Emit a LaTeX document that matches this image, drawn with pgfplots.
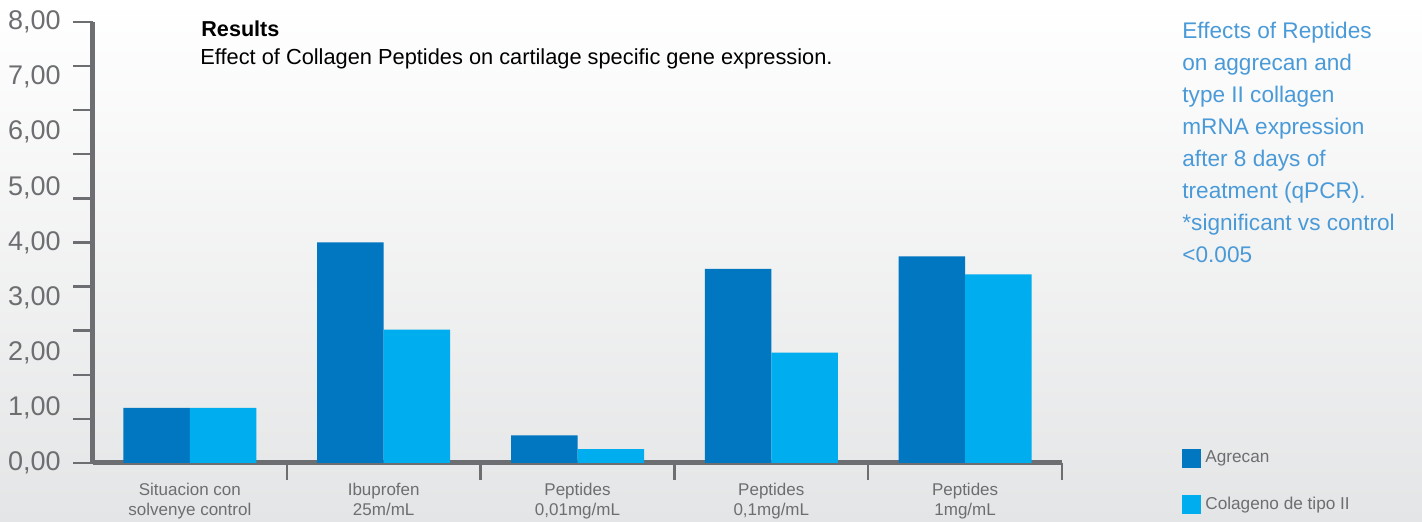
\documentclass[border=0pt]{standalone}
\usepackage{pgfplots}
\pgfplotsset{compat=1.18}
\usepackage{pgfplotstable}
\usepackage{fontspec}
\setmainfont{Liberation Sans}

\definecolor{agre}{HTML}{0077C0}
\definecolor{cola}{HTML}{00ADEE}
\definecolor{axgray}{HTML}{6D6E71}
\definecolor{txtblue}{HTML}{4A9AD8}
\definecolor{bgbot}{HTML}{E4E5E6}

% relative expression
\pgfplotstableread{
idx agrecan colageno
0   1.00    1.00
1   4.00    2.42
2   0.50    0.25
3   3.52    2.00
4   3.75    3.42
}\genedata

\begin{document}
\begin{tikzpicture}
\useasboundingbox (0,0) rectangle (711pt,261pt);
\shade[top color=white, bottom color=bgbot] (0,0) rectangle (711pt,261pt);
\begin{axis}[
  at={(46.5pt,29.5pt)}, anchor=south west,
  scale only axis, width=484.5pt, height=220.5pt,
  xmin=-0.5, xmax=4.5, ymin=0, ymax=8,
  axis x line*=bottom, axis y line*=left,
  axis line style={-, draw=axgray, line width=2.5pt},
  ybar=0pt, bar width=33.25pt,
  tick align=outside,
  major tick length=0pt,
  minor tick length=10pt,
  tick style={draw=axgray, line width=1.2pt},
  xtick={0,...,4},
  xticklabels={{Situacion con\\solvenye control},{Ibuprofen\\25m/mL},{Peptides\\0,01mg/mL},{Peptides\\0,1mg/mL},{Peptides\\1mg/mL}},
  extra x ticks={0.5,1.5,2.5,3.5,4.5},
  extra x tick labels={},
  extra x tick style={major tick length=8.5pt},
  ytick={0,...,8},
  minor ytick={0,0.8,1.6,2.4,3.2,4,4.8,5.6,6.4,7.2,8},
  xticklabel style={font=\fontsize{8.5}{10}\selectfont, text=axgray, align=center, inner sep=0pt, anchor=north, yshift=-10pt},
  yticklabel style={font=\fontsize{13.5}{13.5}\selectfont, text=axgray, inner sep=0pt, xshift=-16pt,
    /pgf/number format/.cd, fixed, fixed zerofill, precision=2, use comma, assume math mode=true},
  legend style={at={(1.1238,0.0375)}, anchor=north west, draw=none, fill=none,
    font=\fontsize{8.6}{10}\selectfont, text=axgray, row sep=11.5pt, inner sep=0pt},
  legend cell align=left,
]
\addplot[fill=agre, draw=none,
  legend image code/.code={\fill[agre] (0pt,-4.75pt) rectangle (9.5pt,4.75pt);}]
  table[x=idx, y=agrecan] {\genedata};
\addlegendentry{Agrecan}
\addplot[fill=cola, draw=none,
  legend image code/.code={\fill[cola] (0pt,-4.75pt) rectangle (9.5pt,4.75pt);}]
  table[x=idx, y=colageno] {\genedata};
\addlegendentry{Colageno de tipo II}
\end{axis}

\node[anchor=base west, inner sep=0pt, font=\bfseries\fontsize{10.8}{13}\selectfont] at (100.5pt,242.7pt) {Results};
\node[anchor=base west, inner sep=0pt, font=\fontsize{10.9}{12}\selectfont] at (100pt,228.5pt) {Effect of Collagen Peptides on cartilage specific gene expression.};
\node[anchor=north west, inner sep=0pt, align=left, text=txtblue, font=\fontsize{11.3}{16}\selectfont] at (591pt,250pt)
  {Effects of Reptides\\on aggrecan and\\type II collagen\\mRNA expression\\after 8 days of\\treatment (qPCR).\\*significant vs control\\<0.005};
\end{tikzpicture}
\end{document}
